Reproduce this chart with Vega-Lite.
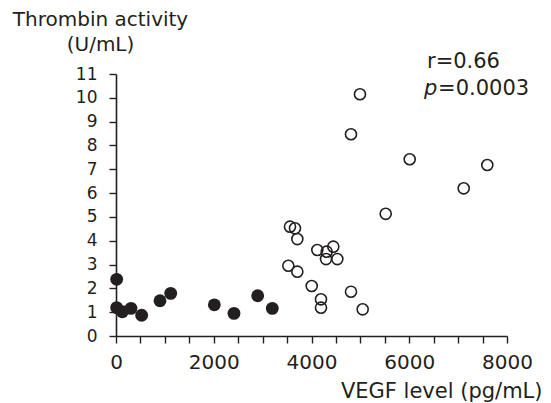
{
  "$schema": "https://vega.github.io/schema/vega-lite/v6.json",
  "width": 391,
  "height": 262,
  "autosize": "none",
  "padding": {"left": 116, "top": 74, "right": 44, "bottom": 67},
  "background": "white",
  "config": {
    "view": {"stroke": null},
    "font": "DejaVu Sans",
    "axis": {
      "domainColor": "#231f20",
      "tickColor": "#231f20",
      "labelColor": "#231f20",
      "titleColor": "#231f20",
      "domainWidth": 1.6,
      "tickWidth": 1.4,
      "grid": false,
      "labelFont": "DejaVu Sans",
      "titleFont": "DejaVu Sans",
      "titleFontWeight": "normal"
    }
  },
  "data": {
    "values": [
      {"vegf": 14, "thrombin": 2.38, "group": "low"},
      {"vegf": 14, "thrombin": 1.19, "group": "low"},
      {"vegf": 130, "thrombin": 1.02, "group": "low"},
      {"vegf": 307, "thrombin": 1.16, "group": "low"},
      {"vegf": 525, "thrombin": 0.87, "group": "low"},
      {"vegf": 900, "thrombin": 1.48, "group": "low"},
      {"vegf": 1119, "thrombin": 1.79, "group": "low"},
      {"vegf": 2012, "thrombin": 1.31, "group": "low"},
      {"vegf": 2414, "thrombin": 0.95, "group": "low"},
      {"vegf": 2899, "thrombin": 1.69, "group": "low"},
      {"vegf": 3198, "thrombin": 1.16, "group": "low"},
      {"vegf": 4992, "thrombin": 10.15, "group": "high"},
      {"vegf": 4808, "thrombin": 8.47, "group": "high"},
      {"vegf": 6009, "thrombin": 7.42, "group": "high"},
      {"vegf": 7597, "thrombin": 7.18, "group": "high"},
      {"vegf": 7114, "thrombin": 6.2, "group": "high"},
      {"vegf": 5518, "thrombin": 5.13, "group": "high"},
      {"vegf": 3560, "thrombin": 4.59, "group": "high"},
      {"vegf": 3662, "thrombin": 4.52, "group": "high"},
      {"vegf": 3710, "thrombin": 4.07, "group": "high"},
      {"vegf": 4119, "thrombin": 3.61, "group": "high"},
      {"vegf": 4446, "thrombin": 3.75, "group": "high"},
      {"vegf": 4310, "thrombin": 3.54, "group": "high"},
      {"vegf": 4297, "thrombin": 3.23, "group": "high"},
      {"vegf": 4528, "thrombin": 3.23, "group": "high"},
      {"vegf": 3526, "thrombin": 2.95, "group": "high"},
      {"vegf": 3710, "thrombin": 2.7, "group": "high"},
      {"vegf": 4004, "thrombin": 2.1, "group": "high"},
      {"vegf": 4194, "thrombin": 1.54, "group": "high"},
      {"vegf": 4194, "thrombin": 1.19, "group": "high"},
      {"vegf": 4808, "thrombin": 1.86, "group": "high"},
      {"vegf": 5047, "thrombin": 1.12, "group": "high"}
    ]
  },
  "encoding": {
    "x": {
      "field": "vegf",
      "type": "quantitative",
      "scale": {"domain": [0, 8000], "nice": false, "zero": false},
      "axis": {
        "values": [0, 500, 1000, 1500, 2000, 2500, 3000, 3500, 4000, 4500, 5000, 5500, 6000, 6500, 7000, 7500, 8000],
        "format": "d",
        "labelExpr": "datum.value % 2000 === 0 ? datum.label : ''",
        "labelFontSize": 20,
        "labelPadding": 9,
        "tickSize": 7,
        "labelFlush": false,
        "labelOverlap": false,
        "title": "VEGF level (pg/mL)",
        "titleFontSize": 21,
        "titleAnchor": null,
        "titleAlign": "right",
        "titleBaseline": "alphabetic",
        "titleX": 426,
        "titleY": 61
      }
    },
    "y": {
      "field": "thrombin",
      "type": "quantitative",
      "scale": {"domain": [0, 11], "nice": false},
      "axis": {
        "values": [0, 1, 2, 3, 4, 5, 6, 7, 8, 9, 10, 11],
        "labelFontSize": 17,
        "labelPadding": 12,
        "tickSize": 7,
        "labelFlush": false,
        "labelOverlap": false,
        "title": ["Thrombin activity", "(U/mL)"],
        "titleFontSize": 20,
        "titleAngle": 0,
        "titleAnchor": null,
        "titleAlign": "center",
        "titleBaseline": "alphabetic",
        "titleLineHeight": 25,
        "titleX": -16,
        "titleY": -49
      }
    }
  },
  "layer": [
    {
      "transform": [{"filter": "datum.group === 'low'"}],
      "mark": {"type": "circle", "size": 165, "color": "#231f20", "opacity": 1}
    },
    {
      "transform": [{"filter": "datum.group === 'high'"}],
      "mark": {"type": "point", "shape": "circle", "filled": false, "size": 122, "stroke": "#231f20", "strokeWidth": 1.6, "opacity": 1}
    },
    {
      "transform": [{"filter": "datum.vegf === 14 && datum.thrombin === 2.38"}],
      "mark": {"type": "text", "text": "r=0.66", "align": "left", "baseline": "alphabetic", "fontSize": 21, "color": "#231f20", "font": "DejaVu Sans"},
      "encoding": {"x": {"datum": 6363}, "y": {"datum": 11.27}}
    },
    {
      "transform": [{"filter": "datum.vegf === 14 && datum.thrombin === 2.38"}],
      "mark": {"type": "text", "text": "p", "align": "left", "baseline": "alphabetic", "fontSize": 21, "fontStyle": "italic", "color": "#231f20", "font": "DejaVu Sans"},
      "encoding": {"x": {"datum": 6300}, "y": {"datum": 10.13}}
    },
    {
      "transform": [{"filter": "datum.vegf === 14 && datum.thrombin === 2.38"}],
      "mark": {"type": "text", "text": "=0.0003", "align": "left", "baseline": "alphabetic", "fontSize": 21, "color": "#231f20", "font": "DejaVu Sans"},
      "encoding": {"x": {"datum": 6590}, "y": {"datum": 10.13}}
    }
  ]
}
